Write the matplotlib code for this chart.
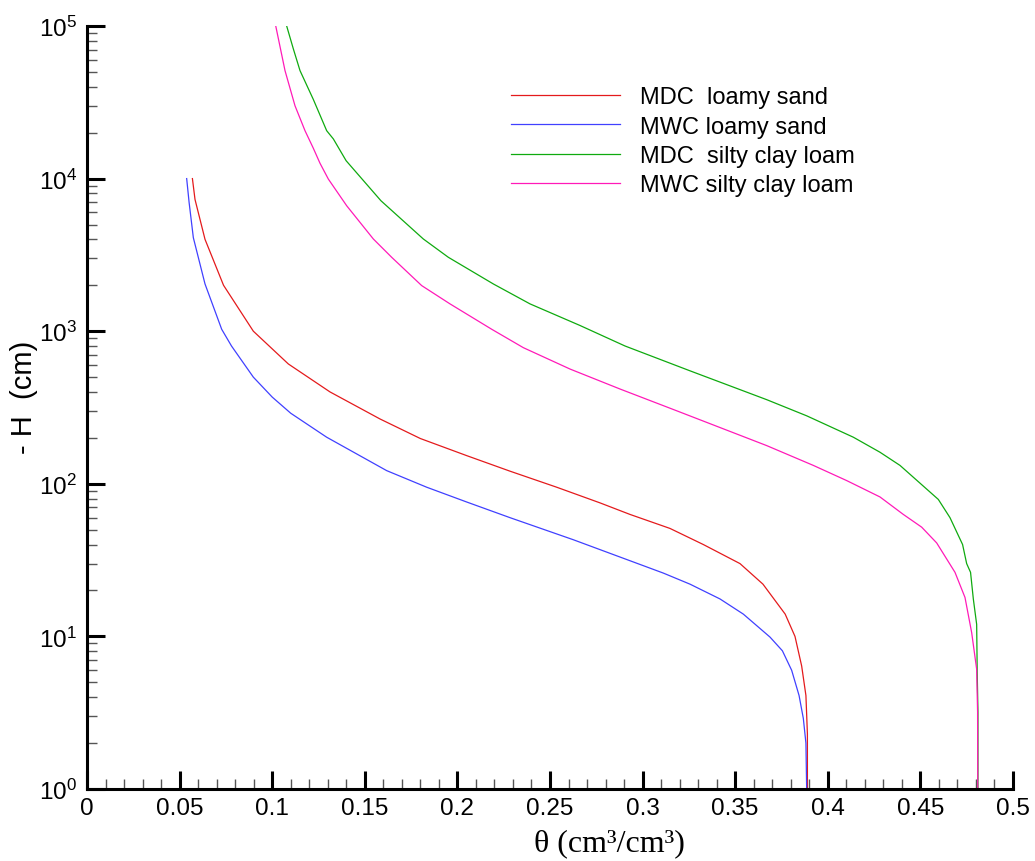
import numpy as np
import matplotlib
matplotlib.use("Agg")
import matplotlib.pyplot as plt
import matplotlib.ticker as ticker

plt.rcParams.update({
    "font.family": "Liberation Sans",
    "mathtext.fontset": "custom",
    "mathtext.rm": "Liberation Sans",
    "mathtext.it": "Liberation Sans:italic",
    "mathtext.bf": "Liberation Sans:bold",
})

# ── data (theta in cm3/cm3, -H in cm) ────────────────────────────────────────
theta_mdc_ls = [0.0569, 0.0583, 0.0637, 0.0737, 0.0898, 0.1087, 0.1312,
                0.1582, 0.1800, 0.2050, 0.2284, 0.2536, 0.2770, 0.2932, 0.3148,
                0.3328, 0.3526, 0.3650, 0.3770, 0.3823, 0.3859, 0.3882, 0.3890,
                0.3890]
h_mdc_ls = [10000, 7300, 4000, 2000, 1000, 610, 400,
            266, 198, 153, 121, 95, 75, 63, 51,
            40, 30, 22, 14, 10, 6.4, 4.1, 2.3,
            1]

theta_mwc_ls = [0.0538, 0.0551, 0.0574, 0.0637, 0.0727, 0.0780, 0.0898, 0.1000,
                0.1100, 0.1294, 0.1618, 0.1834, 0.2050, 0.2284, 0.2626, 0.3112,
                0.3256, 0.3418, 0.3544, 0.3688, 0.3755, 0.3805, 0.3845, 0.3868,
                0.3882, 0.3886]
h_mwc_ls = [10000, 7000, 4100, 2040, 1030, 800, 500, 370,
            290, 202, 122, 95, 76, 60, 43, 26,
            22, 17.6, 14, 9.9, 8.05, 6.0, 4.1, 2.9,
            2.0, 1]

theta_mdc_scl = [0.1078, 0.1114, 0.1150, 0.1222, 0.1294, 0.1330, 0.1399, 0.1587,
                 0.1816, 0.1951, 0.2194, 0.2392, 0.2662, 0.2905, 0.3256, 0.3670,
                 0.3886, 0.4138, 0.4282, 0.4390, 0.4597, 0.4660, 0.4728, 0.4750,
                 0.4771, 0.4786, 0.4804, 0.4807, 0.4811, 0.4811]
h_mdc_scl = [100000, 70800, 51000, 33000, 20600, 18200, 13100, 7160,
             4020, 3050, 2040, 1510, 1090, 800, 550, 356,
             279, 202, 161, 132, 79, 60, 40, 30,
             26.3, 17.6, 12, 5.8, 3.2, 1]

theta_mwc_scl = [0.1019, 0.1069, 0.1123, 0.1177, 0.1222, 0.1258, 0.1303, 0.1402,
                 0.1546, 0.1645, 0.1807, 0.1960, 0.2185, 0.2356, 0.2608, 0.2878,
                 0.3184, 0.3670, 0.3922, 0.4102, 0.4282, 0.4408, 0.4507, 0.4588,
                 0.4687, 0.4741, 0.4777, 0.4804, 0.4809, 0.4810]
h_mwc_scl = [100000, 51000, 30000, 20600, 15800, 12600, 9930, 6640,
             4020, 3050, 1990, 1510, 1030, 780, 565, 418,
             301, 178, 132, 105, 82, 63, 52, 41,
             26.3, 18, 10.6, 6.1, 3.2, 1]

SERIES = [
    ("MDC  loamy sand",      theta_mdc_ls,  h_mdc_ls,  "#e41a1c"),
    ("MWC loamy sand",       theta_mwc_ls,  h_mwc_ls,  "#4040ff"),
    ("MDC  silty clay loam", theta_mdc_scl, h_mdc_scl, "#0faa0f"),
    ("MWC silty clay loam",  theta_mwc_scl, h_mwc_scl, "#ff1ab8"),
]

fig = plt.figure(figsize=(10.35, 8.62), dpi=100)
ax = fig.add_axes([0.0841, 0.0835, 0.8946, 0.8852])

for label, th, h, col in SERIES:
    ax.plot(th, h, color=col, lw=0.9, label=label)

ax.set_yscale("log")
ax.set_xlim(0, 0.5)
ax.set_ylim(1, 1e5)

ax.xaxis.set_major_locator(ticker.MultipleLocator(0.05))
ax.xaxis.set_minor_locator(ticker.MultipleLocator(0.01))
ax.xaxis.set_major_formatter(ticker.FuncFormatter(lambda v, _: f"{v:.2f}".rstrip("0").rstrip(".")))
ax.yaxis.set_major_locator(ticker.LogLocator(base=10, numticks=10))
ax.yaxis.set_minor_locator(ticker.LogLocator(base=10, subs=np.arange(2, 10), numticks=20))
ax.yaxis.set_minor_formatter(ticker.NullFormatter())

for side in ("top", "right"):
    ax.spines[side].set_visible(False)
for side in ("left", "bottom"):
    ax.spines[side].set_linewidth(2.2)

ax.tick_params(which="major", direction="in", length=13, width=2.2,
               labelsize=17.5, color="black")
ax.tick_params(which="minor", direction="in", length=7, width=1.0, color="#555555")
ax.tick_params(axis="x", which="major", pad=6)
ax.tick_params(axis="y", which="major", pad=7)

ax.set_xlabel("θ (cm³/cm³)", family="Liberation Serif", fontsize=23)
ax.xaxis.set_label_coords(0.564, -0.052)
ax.set_ylabel("- H  (cm)", fontsize=21)
ax.yaxis.set_label_coords(-0.053, 0.515)

ax.legend(loc="upper left", bbox_to_anchor=(0.458, 0.921), frameon=False,
          fontsize=17, handlelength=4.6, handletextpad=0.85,
          labelspacing=0.31, borderaxespad=0, borderpad=0)

fig.savefig("out.png", dpi=100)
